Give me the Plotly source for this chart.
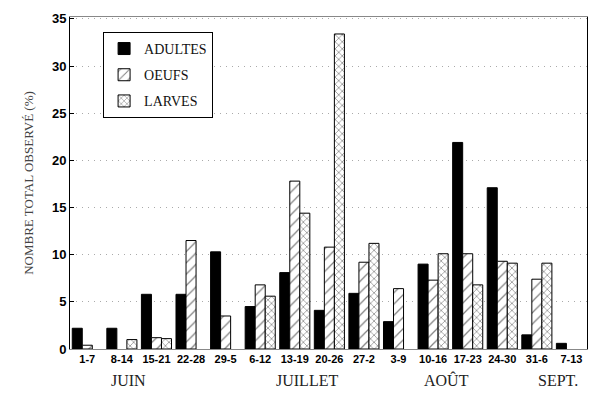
import plotly.graph_objects as go

categories = ["1-7", "8-14", "15-21", "22-28", "29-5", "6-12", "13-19", "20-26",
              "27-2", "3-9", "10-16", "17-23", "24-30", "31-6", "7-13"]
adultes = [2.2, 2.2, 5.8, 5.8, 10.3, 4.5, 8.1, 4.1, 5.9, 2.9, 9.0, 21.9, 17.1, 1.5, 0.6]
oeufs = [0.4, None, 1.2, 11.5, 3.5, 6.8, 17.8, 10.8, 9.2, 6.4, 7.3, 10.1, 9.3, 7.4, None]
larves = [None, 1.0, 1.1, None, None, 5.6, 14.4, 33.4, 11.2, None, 10.1, 6.8, 9.1, 9.1, None]
y_ticks = [0, 5, 10, 15, 20, 25, 30, 35]
months = ["JUIN", "JUILLET", "AOÛT", "SEPT."]
month_pos = [1.2, 6.35, 10.4, 13.6]

fig = go.Figure()
fig.add_trace(go.Bar(name="ADULTES", x=categories, y=adultes, legendgroup="a",
                     marker=dict(color="black", line=dict(color="black", width=1))))
fig.add_trace(go.Bar(name="OEUFS", x=categories, y=oeufs, legendgroup="o",
                     marker=dict(color="white", line=dict(color="black", width=1),
                                 pattern=dict(shape="/", fgcolor="black", bgcolor="white",
                                              size=8, solidity=0.15))))
fig.add_trace(go.Bar(name="LARVES", x=categories, y=larves, legendgroup="l",
                     marker=dict(color="white", line=dict(color="black", width=1),
                                 pattern=dict(shape="x", fgcolor="black", bgcolor="white",
                                              size=5, solidity=0.25))))

for m, p in zip(months, month_pos):
    fig.add_annotation(x=p, y=0, xref="x", yref="paper", yshift=-31, text=m,
                       showarrow=False, yanchor="middle",
                       font=dict(family="Liberation Serif", size=16, color="#222"))

fig.update_layout(
    width=600, height=393,
    margin=dict(l=70, r=13, t=17, b=44, autoexpand=False),
    paper_bgcolor="white", plot_bgcolor="white",
    barmode="group", bargap=0.13, bargroupgap=0,
    legend=dict(x=0.064, y=0.955, xanchor="left", yanchor="top",
                bordercolor="black", borderwidth=1, bgcolor="white",
                font=dict(family="Liberation Serif", size=14, color="#111"),
                tracegroupgap=5, traceorder="grouped"),
    showlegend=True,
)
fig.update_xaxes(type="category", categoryorder="array", categoryarray=categories,
                 range=[-0.5, 14.45], showgrid=False, ticks="", showline=True,
                 linecolor="#888", linewidth=1, mirror=True, automargin=False,
                 ticklabelstandoff=0,
                 tickfont=dict(family="Liberation Sans", size=11, color="black", weight="bold"))
fig.update_yaxes(range=[0, 35.2], tickvals=y_ticks, showline=True, linecolor="black",
                 linewidth=1, mirror=True, ticks="inside", ticklen=4, tickcolor="black",
                 showgrid=True, gridcolor="#aaa", griddash="1px,5px", gridwidth=1,
                 zeroline=False, automargin=False,
                 tickfont=dict(family="Liberation Sans", size=13, color="black", weight="bold"),
                 title=dict(text="NOMBRE TOTAL OBSERVÉ (%)",
                            font=dict(family="Liberation Serif", size=13, color="#444")))

fig.write_html("out.html", config={"displayModeBar": False},
               post_script="document.body.style.margin='0';document.body.style.overflow='hidden';")
